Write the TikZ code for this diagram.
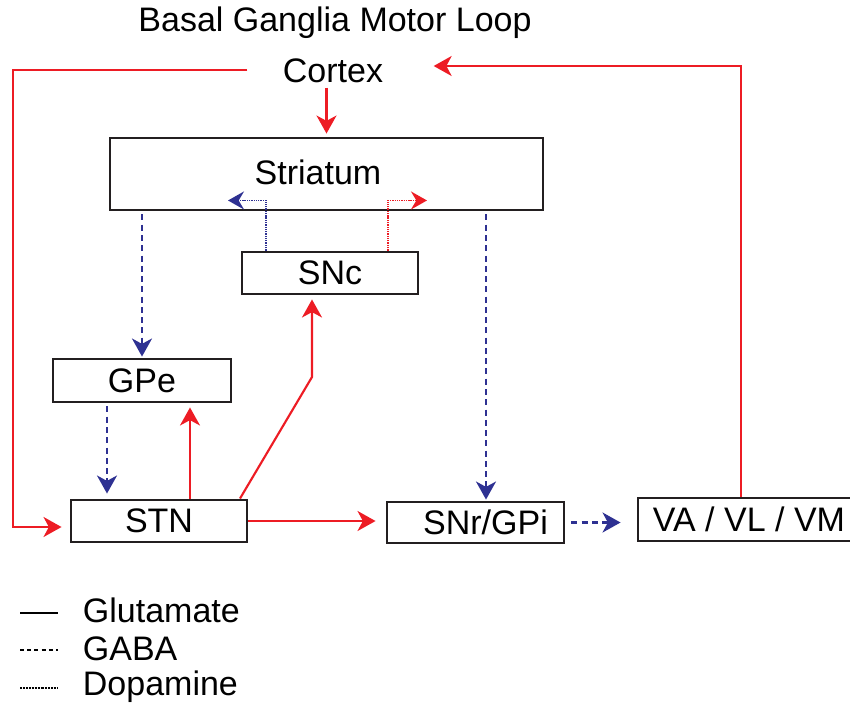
\documentclass[tikz,border=0pt]{standalone}
\usepackage{fontspec}
\setmainfont{Liberation Sans}
\usetikzlibrary{arrows.meta,calc}

\definecolor{glured}{HTML}{ED1C24}
\definecolor{gababl}{HTML}{2E3192}
\definecolor{boxink}{HTML}{231F20}

\tikzset{
  lbl/.style={font=\fontsize{25.5}{30}\selectfont, inner sep=2pt},
  region/.style={lbl, draw=boxink, line width=2.2pt, inner sep=0pt, minimum height=31.5pt},
  tip/.style={-{Stealth[length=13.5pt,width=15pt,inset=4pt]}},
  glu/.style={draw=glured, line width=1.6pt, line join=miter},
  gaba/.style={draw=gababl, line width=1.6pt, dash pattern=on 4.5pt off 3.2pt},
  dopa/.style={line width=1.4pt, dash pattern=on 1pt off 0.7pt},
  key/.style={draw=black, line width=1.1pt}
}

\begin{document}
\begin{tikzpicture}[x=0.75pt, y=-0.75pt]
  \useasboundingbox (0,0) rectangle (850,708);
  \clip (0,0) rectangle (850,708);

  % title and cortex
  \node[lbl] (title) at (335,23) {Basal Ganglia Motor Loop};
  \node[lbl, inner sep=4pt] (ctx) at (333,71) {Cortex};

  % regions
  \node[region, minimum width=324.75pt, minimum height=54pt] (str) at (326.5,174) {};
  \node[lbl] (strtxt) at (318,172) {Striatum};
  \node[region, minimum width=132pt] (snc) at (330,273) {SNc};
  \node[region, minimum width=133.5pt, minimum height=32.25pt] (gpe) at (142,380.5) {GPe};
  \node[region, minimum width=132pt] (stn) at (159,521) {STN};
  \node[region, minimum width=132.75pt, minimum height=30.75pt] (snr) at (475.5,522.5) {\hspace*{15pt}SNr/GPi};
  \node[region, minimum width=166.5pt, minimum height=32.25pt] (va) at (749,519.5) {VA / VL / VM};

  % cortex projections
  \draw[glu, tip] ($(ctx.south -| str.north)+(0,-1)$) -- ($(str.north)+(0,-3)$);
  \coordinate (loopL) at (13,70);
  \draw[glu, tip] ($(ctx.west)+(-30,-1)$) -- (loopL) |- ($(stn.west)+(-8,6)$);

  % thalamic return to cortex
  \draw[glu, tip] ($(va.north)+(-8,0)$) |- ($(ctx.east)+(45,-5)$);

  % nigrostriatal dopamine
  \draw[dopa, draw=gababl, -{Stealth[length=12pt,width=13.5pt,inset=4pt,gababl]}]
    ($(snc.north)+(-64,0)$) |- ($(str.south)+(-98.5,-11)$);
  \draw[dopa, draw=glured, -{Stealth[length=12pt,width=13.5pt,inset=4pt,glured]}]
    ($(snc.north)+(58,0)$) |- ($(str.south)+(100.5,-11)$);

  % striatal outputs
  \draw[gaba, tip] ($(str.south -| gpe.north)+(0,3)$) -- ($(gpe.north)+(0,-1)$);
  \draw[gaba, tip] ($(str.south)+(159.5,3)$) -- ($(snr.north)+(10.5,-1)$);

  % GPe / STN loop
  \draw[gaba, tip] ($(gpe.south)+(-35,3)$) -- ($(stn.north)+(-52,-5)$);
  \draw[glu, tip] ($(stn.north)+(31,0)$) -- ($(gpe.south)+(48,4)$);

  % STN outputs
  \coordinate (bend) at (312,377);
  \draw[glu, tip] ($(stn.north)+(81,0)$) -- (bend) -- ($(snc.south)+(-18,4)$);
  \draw[glu, tip] (stn.east) -- ($(snr.west |- stn.east)+(-10,0)$);

  % output nuclei to thalamus
  \draw[gaba, tip] ($(snr.east)+(6,0)$) -- ($(va.west |- snr.east)+(-16,0)$);

  % legend
  \node[lbl, anchor=west] (kglu) at (80,610) {Glutamate};
  \node[lbl, anchor=west] (kgaba) at (80,649) {GABA};
  \node[lbl, anchor=west] (kdopa) at (80,687) {Dopamine};
  \draw[key] ($(kglu.west)+(-60,3)$) -- ++(38,0);
  \draw[key, dash pattern=on 3pt off 2.4pt] ($(kgaba.west)+(-60,1)$) -- ++(38,0);
  \draw[key, dash pattern=on 0.6pt off 0.5pt] ($(kdopa.west)+(-60,1)$) -- ++(38,0);
\end{tikzpicture}
\end{document}
